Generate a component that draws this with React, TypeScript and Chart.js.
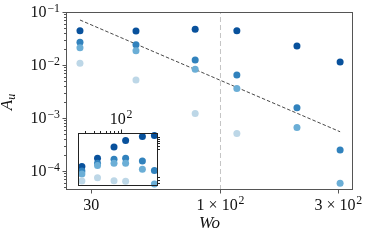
import React, { useEffect, useRef } from "react";
import { Chart, registerables } from "chart.js";

Chart.register(...registerables);

// ---------------- data ----------------
const wo = [27, 45.5, 79, 116.5, 204, 305];
const auDark = [0.0444, 0.0438, 0.0471, 0.0444, 0.0228, 0.0114];
const auMid = [0.0268, 0.0241, 0.0124, 0.0065, 0.00156, 0.000249];
const auLight = [0.0212, 0.0186, 0.0083, 0.0036, 0.00066, 0.000059];
const auPale = [0.0108, 0.0052, 0.00122, 0.00051];

const fitWo = [27, 305];
const fitAu = [0.0706, 0.00055];
const refWo = 100;

const insetDark = [0.1226, 0.216, 0.456, 0.713, 0.935, 1.0];
const insetMid = [0.0916, 0.154, 0.202, 0.216, 0.18, 0.0935];
const insetLight = [0.0748, 0.131, 0.154, 0.154, 0.103, 0.038];
const insetPale = [0.0465, 0.0582, 0.0475, 0.0456];

const xTickValues = [30, 100, 300];
const xTickLabels = ["30", "1 × 10²", "3 × 10²"];
const yTickValues = [1e-1, 1e-2, 1e-3, 1e-4];
const yTickLabels = ["10⁻¹", "10⁻²", "10⁻³", "10⁻⁴"];
const insetTopMinorTicks = [30, 40, 50, 60, 70, 80, 90];
const insetTopMajorTicks = [100];
const insetTopLabels = ["10²"];
const insetRightTicks = [0.04, 0.05, 0.06, 0.4, 0.5, 0.6, 0.7, 0.8, 0.9];

const xTitle = "Wo";
const yTitle = "A";
const yTitleSub = "u";

const X_MIN = 23.7;
const X_MAX = 343.9;
const Y_MIN = 4.38e-5;
const Y_MAX = 0.1;
const INSET_Y_MIN = 0.0332;
const INSET_Y_MAX = 1.175;

const COLORS = ["#08519c", "#3182bd", "#6baed6", "#bdd7e7"];
const FONT = '"Liberation Serif", "DejaVu Serif", serif';
const TEXT = "#111111";

// ---------------- helpers ----------------
const SUP: Record<string, string> = {
  "⁻": "−", "⁰": "0", "¹": "1", "²": "2", "³": "3", "⁴": "4",
  "⁵": "5", "⁶": "6", "⁷": "7", "⁸": "8", "⁹": "9",
};

function runs(label: string) {
  const out: { t: string; sup: boolean }[] = [];
  for (const ch of label) {
    const sup = ch in SUP;
    const c = sup ? SUP[ch] : ch;
    const last = out[out.length - 1];
    if (last && last.sup === sup) last.t += c;
    else out.push({ t: c, sup });
  }
  return out;
}

function drawLabel(ctx: CanvasRenderingContext2D, label: string, x: number, y: number, align: string, size: number) {
  const supSize = size * 0.74;
  const rs = runs(label);
  const gap = 0.8;
  const widths = rs.map((r) => {
    ctx.font = `${r.sup ? supSize : size}px ${FONT}`;
    return ctx.measureText(r.t).width + (r.sup ? gap : 0);
  });
  const total = widths.reduce((a, b) => a + b, 0);
  let cx = align === "right" ? x - total : align === "center" ? x - total / 2 : x;
  ctx.textAlign = "left";
  ctx.textBaseline = "alphabetic";
  ctx.fillStyle = TEXT;
  rs.forEach((r, i) => {
    ctx.font = `${r.sup ? supSize : size}px ${FONT}`;
    ctx.fillText(r.t, cx + (r.sup ? gap : 0), r.sup ? y - size * 0.34 : y);
    cx += widths[i];
  });
}

function hTick(ctx: CanvasRenderingContext2D, x0: number, x1: number, y: number) {
  const py = Math.round(y) + 0.5;
  ctx.beginPath();
  ctx.moveTo(x0, py);
  ctx.lineTo(x1, py);
  ctx.stroke();
}
function vTick(ctx: CanvasRenderingContext2D, x: number, y0: number, y1: number) {
  const px = Math.round(x) + 0.5;
  ctx.beginPath();
  ctx.moveTo(px, y0);
  ctx.lineTo(px, y1);
  ctx.stroke();
}

const mainAxesPlugin = {
  id: "mainAxes",
  afterDraw(chart: any) {
    const { ctx, chartArea: a, scales } = chart;
    const x = scales.x;
    const y = scales.y;
    ctx.save();
    ctx.strokeStyle = "#555555";
    ctx.lineWidth = 1;
    ctx.strokeRect(a.left + 0.5, a.top + 0.5, a.right - a.left - 1, a.bottom - a.top - 1);

    // y ticks (major + minor)
    for (let n = -5; n <= -1; n++) {
      for (let k = 1; k <= 9; k++) {
        const v = k * Math.pow(10, n);
        if (v < Y_MIN * 0.999 || v > Y_MAX * 1.001) continue;
        const len = k === 1 ? 3.5 : 2;
        hTick(ctx, a.left - len, a.left, y.getPixelForValue(v));
      }
    }
    // x ticks
    xTickValues.forEach((v) => vTick(ctx, x.getPixelForValue(v), a.bottom, a.bottom + 3.5));

    // tick labels
    yTickValues.forEach((v, i) => {
      drawLabel(ctx, yTickLabels[i], a.left - 6, y.getPixelForValue(v) + 5.3, "right", 16);
    });
    xTickValues.forEach((v, i) => {
      drawLabel(ctx, xTickLabels[i], x.getPixelForValue(v), a.bottom + 19.5, "center", 16);
    });

    // axis titles
    ctx.fillStyle = TEXT;
    ctx.textBaseline = "alphabetic";
    ctx.textAlign = "center";
    ctx.font = `italic 17px ${FONT}`;
    ctx.fillText(xTitle, (a.left + a.right) / 2, 228);

    ctx.save();
    ctx.translate(12, (a.top + a.bottom) / 2 + 1);
    ctx.rotate(-Math.PI / 2);
    ctx.font = `italic 17px ${FONT}`;
    const wA = ctx.measureText(yTitle).width;
    ctx.font = `italic 12px ${FONT}`;
    const wU = ctx.measureText(yTitleSub).width;
    const start = -(wA + wU) / 2;
    ctx.textAlign = "left";
    ctx.font = `italic 17px ${FONT}`;
    ctx.fillText(yTitle, start, 0);
    ctx.font = `italic 12px ${FONT}`;
    ctx.fillText(yTitleSub, start + wA, 3);
    ctx.restore();

    ctx.restore();
  },
};

const insetPlugin = {
  id: "insetAxes",
  beforeDatasetsDraw(chart: any) {
    const { ctx, chartArea: a } = chart;
    ctx.save();
    ctx.fillStyle = "#ffffff";
    ctx.fillRect(a.left, a.top, a.right - a.left, a.bottom - a.top);
    ctx.restore();
  },
  afterDraw(chart: any) {
    const { ctx, chartArea: a, scales } = chart;
    const x = scales.x;
    const y = scales.y;
    ctx.save();
    ctx.strokeStyle = "#222222";
    ctx.lineWidth = 1;
    ctx.strokeRect(a.left + 0.5, a.top + 0.5, a.right - a.left - 1, a.bottom - a.top - 1);
    insetTopMinorTicks.forEach((v) => vTick(ctx, x.getPixelForValue(v), a.top - 2, a.top));
    insetTopMajorTicks.forEach((v) => vTick(ctx, x.getPixelForValue(v), a.top - 3.5, a.top));
    insetRightTicks.forEach((v) => hTick(ctx, a.right, a.right + 2, y.getPixelForValue(v)));
    insetTopMajorTicks.forEach((v, i) => {
      drawLabel(ctx, insetTopLabels[i], x.getPixelForValue(v), a.top - 9.5, "center", 16);
    });
    ctx.restore();
  },
};

function scatterSets(values: number[][]) {
  return values.map((vals, i) => ({
    type: "scatter" as const,
    data: vals.map((v, j) => ({ x: wo[j], y: v })),
    backgroundColor: COLORS[i],
    borderWidth: 0,
    pointRadius: 3.5,
    pointHoverRadius: 3.5,
    order: 4 - i,
    clip: false as any,
  }));
}

export default function App() {
  const mainRef = useRef<HTMLCanvasElement>(null);
  const insetRef = useRef<HTMLCanvasElement>(null);

  useEffect(() => {
    document.body.style.margin = "0";
    const main = new Chart(mainRef.current!, {
      type: "scatter",
      data: {
        datasets: [
          {
            type: "line",
            data: fitWo.map((v, i) => ({ x: v, y: fitAu[i] })),
            borderColor: "#333333",
            borderWidth: 0.9,
            borderDash: [3.5, 2],
            pointRadius: 0,
            order: 10,
          } as any,
          {
            type: "line",
            data: [
              { x: refWo, y: Y_MIN },
              { x: refWo, y: Y_MAX },
            ],
            borderColor: "#c4c4c4",
            borderWidth: 1,
            borderDash: [5, 3],
            pointRadius: 0,
            order: 11,
          } as any,
          ...scatterSets([auDark, auMid, auLight, auPale]),
        ],
      },
      options: {
        animation: false,
        responsive: false,
        devicePixelRatio: 1,
        events: [],
        layout: { padding: { left: 66, right: 21, top: 12, bottom: 50 } },
        scales: {
          x: { type: "logarithmic", display: false, min: X_MIN, max: X_MAX },
          y: { type: "logarithmic", display: false, min: Y_MIN, max: Y_MAX },
        },
        plugins: { legend: { display: false }, tooltip: { enabled: false } },
      },
      plugins: [mainAxesPlugin],
    });

    const inset = new Chart(insetRef.current!, {
      type: "scatter",
      data: {
        datasets: scatterSets([insetDark, insetMid, insetLight, insetPale]) as any,
      },
      options: {
        animation: false,
        responsive: false,
        devicePixelRatio: 1,
        events: [],
        layout: { padding: { left: 78, right: 216, top: 133, bottom: 54 } },
        scales: {
          x: { type: "logarithmic", display: false, min: X_MIN, max: X_MAX },
          y: { type: "logarithmic", display: false, min: INSET_Y_MIN, max: INSET_Y_MAX },
        },
        plugins: { legend: { display: false }, tooltip: { enabled: false } },
      },
      plugins: [insetPlugin],
    });

    return () => {
      main.destroy();
      inset.destroy();
    };
  }, []);

  return (
    <div style={{ position: "fixed", left: 0, top: 0, width: 374, height: 240, background: "#ffffff" }}>
      <canvas ref={mainRef} width={374} height={240} style={{ position: "absolute", left: 0, top: 0 }} />
      <canvas ref={insetRef} width={374} height={240} style={{ position: "absolute", left: 0, top: 0, pointerEvents: "none" }} />
    </div>
  );
}
